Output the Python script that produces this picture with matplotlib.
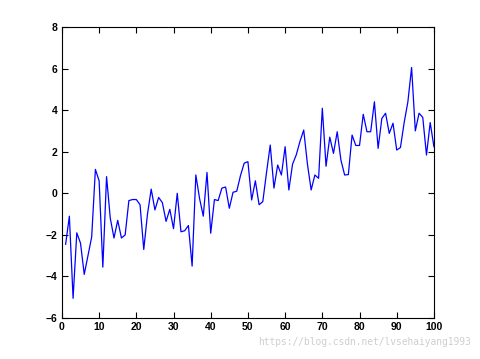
import matplotlib
matplotlib.use('Agg')
import matplotlib.pyplot as plt

# Data (x = 1..100)
x = list(range(1, 101))
y = [-2.45, -1.1, -5.05, -1.9, -2.4, -3.9, -3.0, -2.1, 1.15, 0.6,
     -3.55, 0.8, -1.2, -2.15, -1.3, -2.15, -2.0, -0.35, -0.3, -0.3,
     -0.55, -2.7, -1.0, 0.2, -0.8, -0.2, -0.45, -1.35, -0.77, -1.7,
     0.0, -1.85, -1.8, -1.55, -3.5, 0.88, -0.25, -1.1, 1.0, -1.92,
     -0.3, -0.35, 0.25, 0.3, -0.72, 0.05, 0.1, 0.85, 1.45, 1.52,
     -0.32, 0.6, -0.55, -0.4, 1.0, 2.32, 0.25, 1.36, 0.88, 2.24,
     0.16, 1.4, 1.85, 2.5, 3.04, 1.4, 0.16, 0.88, 0.72, 4.09,
     1.3, 2.7, 1.92, 2.96, 1.6, 0.88, 0.9, 2.8, 2.3, 2.3,
     3.8, 2.96, 2.96, 4.4, 2.16, 3.6, 3.85, 2.88, 3.37, 2.08,
     2.2, 3.4, 4.4, 6.05, 3.0, 3.85, 3.65, 1.84, 3.4, 2.24]

xticks = list(range(0, 101, 10))
yticks = list(range(-6, 9, 2))

fig = plt.figure(figsize=(4.8, 3.59), dpi=100)
ax = fig.add_axes([0.129, 0.114, 0.775, 0.811])
ax.plot(x, y, color='#0000ff', linewidth=0.9)

ax.set_xlim(0, 100)
ax.set_ylim(-6, 8)
ax.set_xticks(xticks)
ax.set_yticks(yticks)
ax.tick_params(direction='in', top=True, right=True, length=4, width=0.8,
               labelsize=7.5, pad=3)
for lab in ax.get_xticklabels() + ax.get_yticklabels():
    lab.set_fontweight('bold')
    lab.set_family('Liberation Sans')
for s in ax.spines.values():
    s.set_linewidth(0.8)

# watermark
fig.text(0.98, 0.033, 'https://blog.csdn.net/lvsehaiyang1993', ha='right',
         va='bottom', fontsize=6.9, color='#cfcfcf', family='DejaVu Sans Mono')

fig.savefig('out.png', dpi=100, facecolor='white')
